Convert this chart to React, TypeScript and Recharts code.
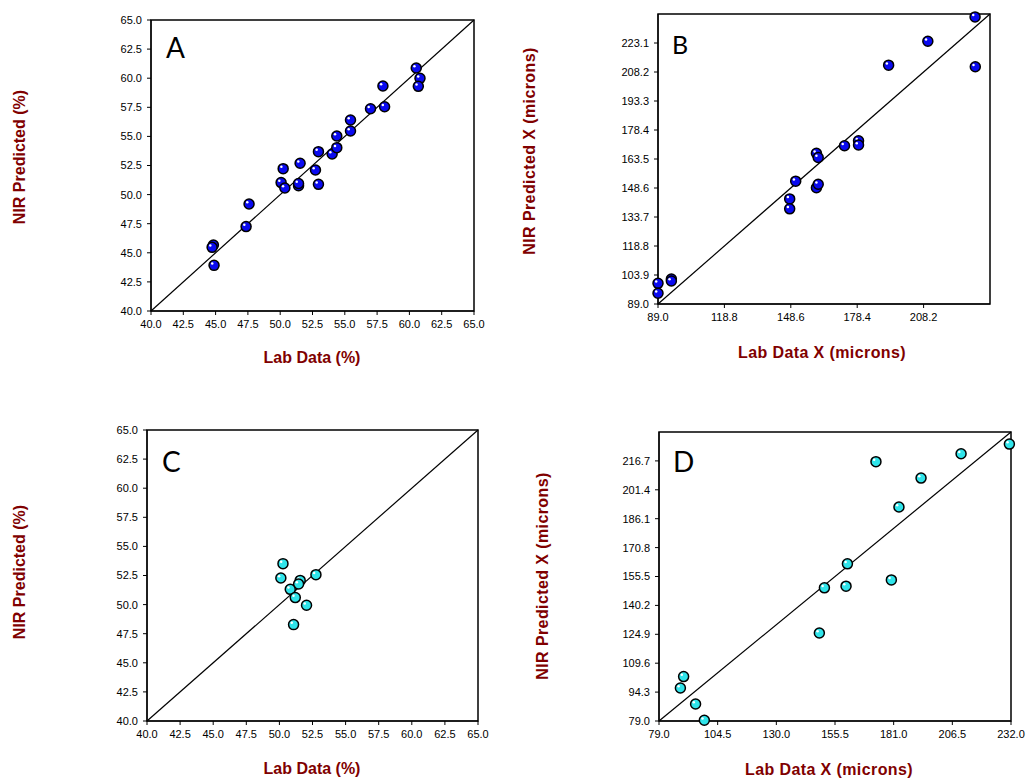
import React from 'react';
import {
  ScatterChart,
  Scatter,
  XAxis,
  YAxis,
  ReferenceLine,
  ReferenceArea,
} from 'recharts';

// Panel A - % data, calibration set
const aLab = [44.83, 44.73, 44.88, 47.36, 47.59, 50.07, 50.23, 50.36, 51.42, 51.42, 51.54, 52.73, 52.96, 52.96, 54.02, 54.38, 54.38, 55.44, 55.44, 56.99, 57.95, 58.08, 60.53, 60.82, 60.69];
const aNir = [45.67, 45.47, 43.92, 47.25, 49.19, 51.03, 52.23, 50.57, 50.77, 50.95, 52.69, 52.11, 53.69, 50.88, 53.49, 54.03, 55.03, 55.46, 56.41, 57.38, 59.33, 57.55, 60.88, 59.99, 59.3];

// Panel B - microns, calibration set
const bLab = [231.3, 210.1, 192.5, 231.4, 172.7, 179.0, 179.0, 160.1, 160.9, 150.8, 160.1, 160.9, 148.1, 148.1, 95.0, 95.0, 89.0, 89.0];
const bNir = [236.5, 224.0, 211.7, 210.9, 170.3, 172.9, 170.7, 166.4, 164.3, 152.1, 148.7, 150.5, 143.0, 137.9, 101.8, 100.8, 99.6, 94.5];

// Panel C - % data, validation set
const cLab = [50.27, 50.11, 52.76, 51.57, 51.45, 50.82, 51.2, 52.05, 51.07];
const cNir = [53.52, 52.29, 52.57, 52.08, 51.77, 51.31, 50.6, 49.94, 48.28];

// Panel D - microns, validation set
const dLab = [231.3, 210.3, 173.3, 192.9, 183.3, 160.9, 150.9, 160.3, 180.0, 148.7, 89.7, 88.3, 94.9, 98.7];
const dNir = [225.6, 220.5, 216.3, 207.6, 192.3, 162.2, 149.5, 150.4, 153.7, 125.6, 102.5, 96.5, 88.0, 79.4];

const pctTicks = [40, 42.5, 45, 47.5, 50, 52.5, 55, 57.5, 60, 62.5, 65];
const bXTicks = [89.0, 118.8, 148.6, 178.4, 208.2];
const bYTicks = [89.0, 103.9, 118.8, 133.7, 148.6, 163.5, 178.4, 193.3, 208.2, 223.1];
const dXTicks = [79.0, 104.5, 130.0, 155.5, 181.0, 206.5, 232.0];
const dYTicks = [79.0, 94.3, 109.6, 124.9, 140.2, 155.5, 170.8, 186.1, 201.4, 216.7];

const toPoints = (xs: number[], ys: number[]) => xs.map((x, i) => ({ x, y: ys[i] }));

const TITLE_RED = '#800000';
const tickStyle = { fontSize: 11, fill: '#000', fontFamily: 'Liberation Sans, Arial, sans-serif' };

const makeBall = (fill: string) => (props: any) => {
  const { cx, cy } = props;
  if (cx == null || cy == null) return <g />;
  return (
    <g>
      <circle cx={cx} cy={cy} r={5} fill={fill} stroke="#000" strokeWidth={1.5} />
      <circle cx={cx - 1.8} cy={cy - 1.8} r={1.25} fill="#fff" />
    </g>
  );
};

const BlueBall = makeBall('#0a0af0');
const CyanBall = makeBall('#30e4ea');

interface PanelProps {
  box: { x: number; y: number; w: number; h: number };
  domain: [number, number];
  xTicks: number[];
  yTicks: number[];
  data: Array<{ x: number; y: number }>;
  shape: any;
}

const Panel: React.FC<PanelProps> = ({ box, domain, xTicks, yTicks, data, shape }) => {
  const yw = 70;
  return (
    <div style={{ position: 'absolute', left: box.x - yw, top: box.y - 10 }}>
      <ScatterChart
        width={box.w + yw + 20}
        height={box.h + 40}
        margin={{ top: 10, right: 20, left: 0, bottom: 0 }}
      >
        <XAxis
          type="number"
          dataKey="x"
          domain={domain}
          ticks={xTicks}
          interval={0}
          height={30}
          tickSize={4}
          tickMargin={5}
          tick={tickStyle}
          stroke="#000"
          tickFormatter={(v: number) => v.toFixed(1)}
        />
        <YAxis
          type="number"
          dataKey="y"
          domain={domain}
          ticks={yTicks}
          interval={0}
          width={yw}
          tickSize={4}
          tickMargin={5}
          tick={tickStyle}
          stroke="#000"
          tickFormatter={(v: number) => v.toFixed(1)}
        />
        <ReferenceArea
          x1={domain[0]}
          x2={domain[1]}
          y1={domain[0]}
          y2={domain[1]}
          fill="none"
          fillOpacity={0}
          stroke="#000"
          strokeWidth={1.5}
        />
        <ReferenceLine
          segment={[
            { x: domain[0], y: domain[0] },
            { x: domain[1], y: domain[1] },
          ]}
          stroke="#000"
          strokeWidth={1.2}
        />
        <Scatter data={data} shape={shape} isAnimationActive={false} />
      </ScatterChart>
    </div>
  );
};

const titleFont = 'Liberation Sans, Arial, sans-serif';
const letterFont = 'Lato, Open Sans, sans-serif';

export default function App() {
  return (
    <div style={{ position: 'absolute', left: 0, top: 0, width: 1027, height: 778, background: '#fff', overflow: 'hidden' }}>
      <Panel box={{ x: 151, y: 20, w: 323, h: 291 }} domain={[40, 65]} xTicks={pctTicks} yTicks={pctTicks} data={toPoints(aLab, aNir)} shape={BlueBall} />
      <Panel box={{ x: 658, y: 14, w: 332, h: 290 }} domain={[89, 238]} xTicks={bXTicks} yTicks={bYTicks} data={toPoints(bLab, bNir)} shape={BlueBall} />
      <Panel box={{ x: 147, y: 430, w: 331, h: 291 }} domain={[40, 65]} xTicks={pctTicks} yTicks={pctTicks} data={toPoints(cLab, cNir)} shape={CyanBall} />
      <Panel box={{ x: 659, y: 432, w: 352, h: 289 }} domain={[79, 232]} xTicks={dXTicks} yTicks={dYTicks} data={toPoints(dLab, dNir)} shape={CyanBall} />

      <svg width={1027} height={778} style={{ position: 'absolute', left: 0, top: 0, pointerEvents: 'none' }}>
        {/* panel letters */}
        <text x={166} y={58} fontSize={28} fontFamily={letterFont}>A</text>
        <text x={672} y={54} fontSize={25} fontFamily={letterFont}>B</text>
        <text x={162} y={472} fontSize={28} fontFamily={letterFont}>C</text>
        <text x={673} y={472} fontSize={28} fontFamily={letterFont}>D</text>

        {/* axis titles */}
        <g fill={TITLE_RED} fontWeight="bold" fontFamily={titleFont} fontSize={16}>
          <text x={312} y={363} textAnchor="middle">Lab Data (%)</text>
          <text x={822} y={358} textAnchor="middle" letterSpacing={0.4}>Lab Data X (microns)</text>
          <text x={312} y={774} textAnchor="middle">Lab Data (%)</text>
          <text x={829} y={775} textAnchor="middle" letterSpacing={0.4}>Lab Data X (microns)</text>

          <text x={25} y={157} textAnchor="middle" transform="rotate(-90 25 157)">NIR Predicted (%)</text>
          <text x={535} y={151} textAnchor="middle" transform="rotate(-90 535 151)" letterSpacing={0.4}>NIR Predicted X (microns)</text>
          <text x={25} y={572} textAnchor="middle" transform="rotate(-90 25 572)">NIR Predicted (%)</text>
          <text x={548} y={576} textAnchor="middle" transform="rotate(-90 548 576)" letterSpacing={0.4}>NIR Predicted X (microns)</text>
        </g>
      </svg>
    </div>
  );
}
